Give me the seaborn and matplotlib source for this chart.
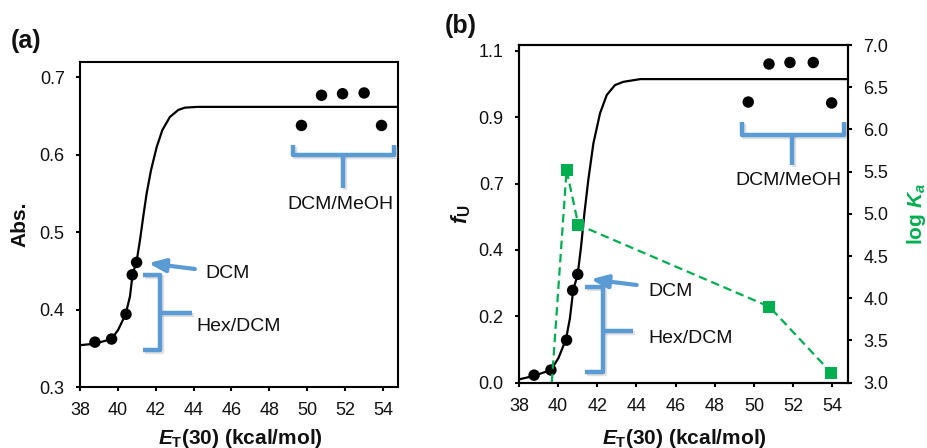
import matplotlib
matplotlib.use("Agg")
import matplotlib.pyplot as plt
import matplotlib.patheffects as pe
from matplotlib.patches import FancyArrowPatch
from matplotlib.ticker import FixedLocator, FormatStrFormatter
import numpy as np
import pandas as pd
import seaborn as sns

# ---------------- data ----------------
# panel (a): absorbance vs ET(30)
et30_a = [38.79, 39.67, 40.43, 40.76, 40.99, 49.70, 50.76, 51.87, 53.01, 53.93]
abs_a = [0.358, 0.362, 0.394, 0.445, 0.461, 0.638, 0.677, 0.679, 0.680, 0.638]
# fitted curve (a)
fit_x_a = [38.00, 38.79, 39.67, 40.02, 40.41, 40.64, 40.78, 40.99, 41.17, 41.34,
           41.52, 41.75, 42.05, 42.35, 42.75, 43.19, 43.54, 44.20, 54.80]
fit_y_a = [0.354, 0.356, 0.362, 0.374, 0.394, 0.417, 0.446, 0.462, 0.490, 0.520,
           0.550, 0.580, 0.610, 0.632, 0.649, 0.658, 0.661, 0.662, 0.662]

# panel (b): fraction unfolded fU vs ET(30)
et30_b = [38.77, 39.63, 40.43, 40.74, 41.00, 49.71, 50.77, 51.84, 53.03, 53.97]
fu_b = [0.025, 0.042, 0.141, 0.306, 0.359, 0.930, 1.056, 1.061, 1.061, 0.927]
fit_x_b = [38.00, 38.73, 39.63, 40.01, 40.40, 40.60, 40.77, 41.00, 41.17, 41.34,
           41.54, 41.80, 42.14, 42.48, 42.90, 43.33, 44.20, 54.82]
fit_y_b = [0.011, 0.022, 0.042, 0.081, 0.144, 0.213, 0.307, 0.360, 0.451, 0.561,
           0.672, 0.793, 0.893, 0.953, 0.986, 0.997, 1.006, 1.006]
# log Ka (right axis)
ka_x = [39.63, 40.43, 41.03, 50.79, 53.94]
logka = [2.85, 5.52, 4.87, 3.90, 3.12]

# tick values / labels
xticks = [38, 40, 42, 44, 46, 48, 50, 52, 54]
yticks_a = [0.3, 0.4, 0.5, 0.6, 0.7]
yticks_b = [0.0, 0.22, 0.44, 0.66, 0.88, 1.10]
yticks_b2 = [3.0, 3.5, 4.0, 4.5, 5.0, 5.5, 6.0, 6.5, 7.0]

# ---------------- style ----------------
sns.set_theme(style="ticks")
plt.rcParams['font.family'] = ['Liberation Sans', 'DejaVu Sans']
plt.rcParams['mathtext.fontset'] = 'custom'
plt.rcParams['mathtext.rm'] = 'Liberation Sans:bold'
plt.rcParams['mathtext.it'] = 'Liberation Sans:italic:bold'
plt.rcParams['mathtext.bf'] = 'Liberation Sans:bold'

BLUE = '#5B9BD5'
GREEN = '#00B050'
TXT = '#111111'
FS = 13      # tick labels
FA = 14      # annotation text
FL = 15      # axis labels

fig = plt.figure(figsize=(9.28, 4.48), dpi=100)
W, H = 928, 448
axA = fig.add_axes([80 / W, 1 - 387 / H, 318 / W, 325 / H])
axB = fig.add_axes([519 / W, 1 - 382.7 / H, 329.3 / W, 337.7 / H])


def style_axis(ax):
    for s in ax.spines.values():
        s.set_linewidth(1.5)
        s.set_color('black')
    ax.tick_params(axis='both', direction='out', length=3, width=1.5,
                   labelsize=FS, pad=8, colors='black', labelcolor=TXT)
    ax.tick_params(top=False, right=False)
    ax.grid(False)


shadow_line = [pe.SimpleLineShadow(offset=(1.5, -1.5), shadow_color='#9a9a9a', alpha=0.3),
               pe.Normal()]
shadow_patch = [pe.SimplePatchShadow(offset=(1.5, -1.5), shadow_rgbFace='#9a9a9a', alpha=0.3),
                pe.Normal()]


def bracket(ax, xs, ys):
    ax.plot(xs, ys, color=BLUE, lw=3.2, solid_capstyle='butt', solid_joinstyle='round',
            path_effects=shadow_line, zorder=5, clip_on=False)


def arrow(ax, tail, tip):
    a = FancyArrowPatch(tail, tip, arrowstyle='-|>,head_length=1.0,head_width=0.4',
                        mutation_scale=10, color=BLUE, lw=3, zorder=5,
                        shrinkA=0, shrinkB=0, path_effects=shadow_patch)
    ax.add_patch(a)


# ---------------- panel (a) ----------------
sns.lineplot(x=fit_x_a, y=fit_y_a, ax=axA, color='black', lw=1.6, sort=False,
             estimator=None, zorder=3)
sns.scatterplot(x=et30_a, y=abs_a, ax=axA, color='black', s=68, marker='o',
                edgecolor='none', zorder=4)
axA.set_xlim(38, 54.8)
axA.set_ylim(0.3, 0.72)
axA.xaxis.set_major_locator(FixedLocator(xticks))
axA.yaxis.set_major_locator(FixedLocator(yticks_a))
axA.yaxis.set_major_formatter(FormatStrFormatter('%.1f'))
style_axis(axA)
axA.set_xlabel(r'$E_{\mathrm{T}}$(30) (kcal/mol)', fontsize=FL, fontweight='bold', color=TXT)
axA.set_ylabel('Abs.', fontsize=FL, fontweight='bold', color=TXT)
axA.xaxis.set_label_coords(0.503, -0.122)
axA.yaxis.set_label_coords(-0.16, 0.5)

arrow(axA, (44.07, 0.4525), (41.61, 0.460))
axA.text(44.65, 0.447, 'DCM', fontsize=FA, color=TXT, va='center', ha='left')
bracket(axA, [41.33, 42.22, 42.22, 41.33], [0.4447, 0.4447, 0.3478, 0.3478])
bracket(axA, [42.22, 43.91], [0.3956, 0.3956])
axA.text(44.16, 0.3788, 'Hex/DCM', fontsize=FA, color=TXT, va='center', ha='left')
bracket(axA, [49.26, 49.26, 54.60, 54.60], [0.6127, 0.5997, 0.5997, 0.6127])
bracket(axA, [51.87, 51.87], [0.5997, 0.5567])
axA.text(51.76, 0.5364, 'DCM/MeOH', fontsize=FA, color=TXT, va='center', ha='center')

# ---------------- panel (b) ----------------
sns.lineplot(x=fit_x_b, y=fit_y_b, ax=axB, color='black', lw=1.6, sort=False,
             estimator=None, zorder=3)
sns.scatterplot(x=et30_b, y=fu_b, ax=axB, color='black', s=68, marker='o',
                edgecolor='none', zorder=4)
axB.set_xlim(38, 54.82)
axB.set_ylim(0.0, 1.119)
axB.xaxis.set_major_locator(FixedLocator(xticks))
axB.yaxis.set_major_locator(FixedLocator(yticks_b))
axB.yaxis.set_major_formatter(FormatStrFormatter('%.1f'))
style_axis(axB)
axB.set_xlabel(r'$E_{\mathrm{T}}$(30) (kcal/mol)', fontsize=FL, fontweight='bold', color=TXT)
axB.set_ylabel(r'$f_{\mathrm{U}}$', fontsize=16, fontweight='bold', color=TXT)
axB.xaxis.set_label_coords(0.502, -0.13)
axB.yaxis.set_label_coords(-0.14, 0.5)

ax2 = axB.twinx()
sns.lineplot(x=ka_x, y=logka, ax=ax2, color=GREEN, lw=1.6, linestyle=(0, (3.8, 2.2)),
             marker='s', markersize=9, markeredgewidth=0, sort=False, estimator=None)
ax2.set_ylim(3.0, 7.0)
ax2.yaxis.set_major_locator(FixedLocator(yticks_b2))
ax2.yaxis.set_major_formatter(FormatStrFormatter('%.1f'))
for s in ax2.spines.values():
    s.set_linewidth(1.5)
    s.set_color('black')
ax2.tick_params(axis='y', direction='out', length=3, width=1.5, labelsize=FS, pad=8,
                colors='black', labelcolor=TXT, left=False, right=True)
ax2.grid(False)
ax2.set_ylabel(r'log $K_a$', fontsize=FL, fontweight='bold', color=GREEN)
ax2.yaxis.set_label_coords(1.172, 0.5)

arrow(axB, (44.01, 0.3237), (41.66, 0.3426))
axB.text(44.59, 0.3015, 'DCM', fontsize=FA, color=TXT, va='center', ha='left')
bracket(axB, [41.37, 42.31, 42.31, 41.37], [0.318, 0.318, 0.0364, 0.0364])
bracket(axB, [42.31, 43.84], [0.1723, 0.1723])
axB.text(44.59, 0.148, 'Hex/DCM', fontsize=FA, color=TXT, va='center', ha='left')
bracket(axB, [49.37, 49.37, 54.60, 54.60], [0.865, 0.821, 0.821, 0.865])
bracket(axB, [51.93, 51.93], [0.821, 0.7213])
axB.text(51.77, 0.6716, 'DCM/MeOH', fontsize=FA, color=TXT, va='center', ha='center')

# panel letters
fig.text(11 / W, 1 - 41 / H, '(a)', fontsize=18, fontweight='bold', va='center', ha='left', color=TXT)
fig.text(445 / W, 1 - 26 / H, '(b)', fontsize=18, fontweight='bold', va='center', ha='left', color=TXT)

fig.savefig('out.png', dpi=100)
